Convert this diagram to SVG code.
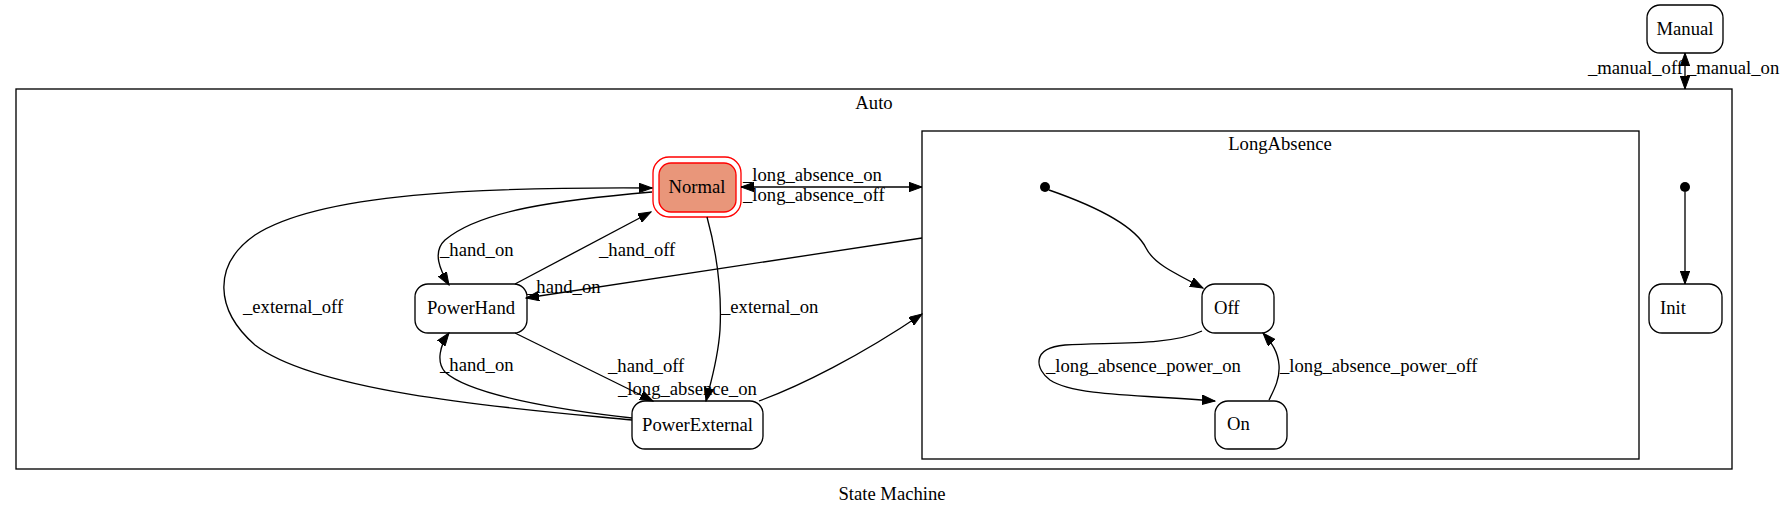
<svg xmlns="http://www.w3.org/2000/svg" width="1783" height="517" viewBox="0 0 1783 517">
<style>
text{font-family:"Liberation Serif","Times New Roman",serif;font-size:18.67px;fill:#000}
.c{text-anchor:middle}
.cl{fill:none;stroke:#000;stroke-width:1.33}
.st{fill:#fff;stroke:#000;stroke-width:1.33}
.e{fill:none;stroke:#000;stroke-width:1.33;marker-end:url(#ah)}
</style>
<defs>
<marker id="ah" markerUnits="userSpaceOnUse" markerWidth="14" markerHeight="10" refX="13" refY="4.7" orient="auto-start-reverse" viewBox="0 0 14 10">
<path d="M0,0 L13,4.7 L0,9.4 z" fill="#000" stroke="#000" stroke-width="1"/>
</marker>
</defs>
<rect width="1783" height="517" fill="#fff"/>
<text class="c" x="892" y="500">State Machine</text>
<g id="cluster_Auto">
<rect class="cl" x="16" y="89" width="1716" height="380"/>
<text class="c" x="874" y="109">Auto</text>
</g>
<g id="cluster_LongAbsence">
<rect class="cl" x="922" y="131" width="717" height="328"/>
<text class="c" x="1280" y="150">LongAbsence</text>
</g>
<g id="Manual">
<rect class="st" x="1647" y="5" width="76" height="48" rx="13"/>
<text class="c" x="1685" y="35">Manual</text>
</g>
<g id="Normal">
<rect x="653" y="157" width="88" height="60" rx="16" fill="none" stroke="#f00" stroke-width="1.33"/>
<rect x="659" y="163" width="77" height="49" rx="12" fill="#e9967a" stroke="#f00" stroke-width="1.33"/>
<text class="c" x="697" y="193">Normal</text>
</g>
<g id="PowerHand">
<rect class="st" x="415" y="284" width="112" height="49" rx="13"/>
<text class="c" x="471" y="314">PowerHand</text>
</g>
<g id="PowerExternal">
<rect class="st" x="632" y="401" width="131" height="48" rx="13"/>
<text class="c" x="697.5" y="431">PowerExternal</text>
</g>
<g id="LA_init">
<circle cx="1045" cy="187" r="5" fill="#000"/>
</g>
<g id="Off">
<rect class="st" x="1202" y="284" width="72" height="49" rx="13"/>
<text x="1214" y="314">Off</text>
</g>
<g id="On">
<rect class="st" x="1215" y="401" width="72" height="48" rx="13"/>
<text x="1227" y="430">On</text>
</g>
<g id="Auto_init">
<circle cx="1685" cy="187" r="5" fill="#000"/>
</g>
<g id="Init">
<rect class="st" x="1649" y="284" width="73" height="49" rx="13"/>
<text x="1660" y="314">Init</text>
</g>
<g id="connectors">
<text x="1683" y="74" style="text-anchor:end">_manual_off</text>
<text x="1687" y="74">_manual_on</text>
<text x="743" y="181">_long_absence_on</text>
<text x="743" y="201">_long_absence_off</text>
<text x="527" y="293">_hand_on</text>
<text x="618" y="395">_long_absence_on</text>
<text x="440" y="256">_hand_on</text>
<text x="599" y="256">_hand_off</text>
<text x="721" y="313">_external_on</text>
<text x="608" y="372">_hand_off</text>
<text x="440" y="371">_hand_on</text>
<text x="243" y="313">_external_off</text>
<text x="1046" y="372">_long_absence_power_on</text>
<text x="1280" y="372">_long_absence_power_off</text>
<path class="e" d="M1049,190 C1095,206 1135,226 1146,248 C1153,262 1168,270 1203,288"/>
<path class="e" d="M1202,331 C1170,346 1110,342 1065,345 C1030,348 1036,370 1050,380 C1075,397 1150,395 1215,401"/>
<path class="e" d="M1269,400 C1275,388 1280,378 1279,365 C1278,352 1272,343 1263,333"/>
<path class="e" d="M1685,192 L1685,284"/>
<path class="e" d="M1685,53 L1685,89" style="marker-start:url(#ah)"/>
<path class="e" d="M741,187 L922,187" style="marker-start:url(#ah)"/>
<path class="e" d="M922,238 L526,298"/>
<path class="e" d="M759,401 C800,386 860,356 922,314"/>
<path class="e" d="M652,192 C560,200 480,210 445,240 C432,252 440,270 449,285"/>
<path class="e" d="M515,284 L651,212"/>
<path class="e" d="M707,217 C716,250 722,290 720,330 C718,360 710,385 706,401"/>
<path class="e" d="M515,333 L653,401"/>
<path class="e" d="M632,418 C560,410 470,395 445,372 C436,362 440,345 449,333"/>
<path class="e" d="M632,420 C530,410 320,395 255,345 C215,310 212,265 255,235 C320,193 480,187 652,188"/>
</g>
</svg>
